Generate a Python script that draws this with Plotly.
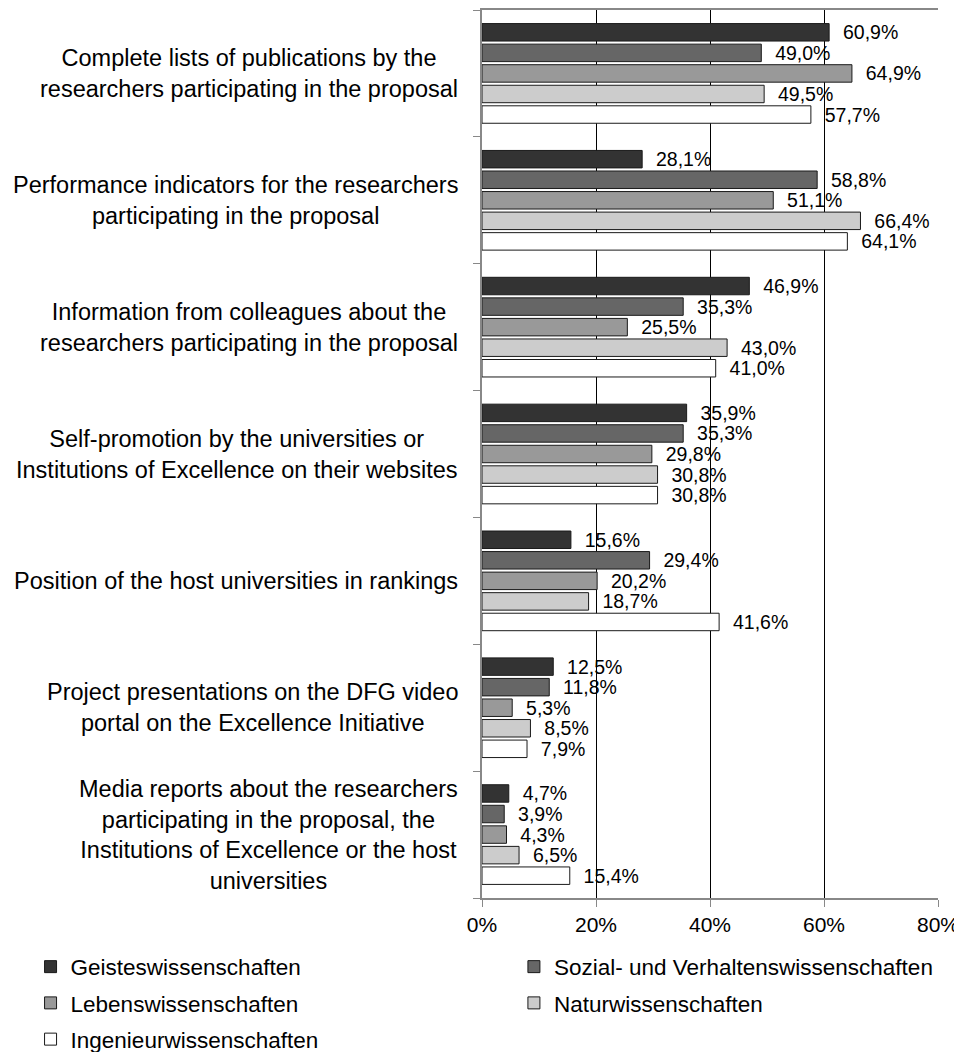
import plotly.graph_objects as go

categories = [
    "Complete lists of publications by the<br>researchers participating in the proposal",
    "Performance indicators for the researchers<br>participating in the proposal",
    "Information from colleagues about the<br>researchers participating in the proposal",
    "Self-promotion by the universities or<br>Institutions of Excellence on their websites",
    "Position of the host universities in rankings",
    "Project presentations on the DFG video<br>portal on the Excellence Initiative",
    "Media reports about the researchers<br>participating in the proposal, the<br>Institutions of Excellence or the host<br>universities",
]

series_names = ["Geisteswissenschaften", "Sozial- und Verhaltenswissenschaften",
                "Lebenswissenschaften", "Naturwissenschaften", "Ingenieurwissenschaften"]

geistes = [60.9, 28.1, 46.9, 35.9, 15.6, 12.5, 4.7]
sozial = [49.0, 58.8, 35.3, 35.3, 29.4, 11.8, 3.9]
leben = [64.9, 51.1, 25.5, 29.8, 20.2, 5.3, 4.3]
natur = [49.5, 66.4, 43.0, 30.8, 18.7, 8.5, 6.5]
ingenieur = [57.7, 64.1, 41.0, 30.8, 41.6, 7.9, 15.4]

x_ticks = [0, 20, 40, 60, 80]
x_tick_labels = ["0%", "20%", "40%", "60%", "80%"]

colors = ["#333333", "#666666", "#999999", "#cccccc", "#ffffff"]
# legend is laid out in two columns like the Excel original
legend_ids = ["legend", "legend2", "legend", "legend2", "legend"]
FONT = "Liberation Sans"

fig = go.Figure()
for name, vals, col, lg in zip(series_names, [geistes, sozial, leben, natur, ingenieur], colors, legend_ids):
    fig.add_trace(go.Bar(
        y=list(range(len(categories))), x=vals, name=name, orientation="h",
        legend=lg, legendgroup=name,
        marker=dict(color=col, line=dict(color="#1a1a1a", width=1)),
        text=["\u00a0\u00a0" + f"{v:.1f}".replace(".", ",") + "%" for v in vals],
        textposition="outside", constraintext="none", cliponaxis=False,
        textfont=dict(family=FONT, size=19.5, color="#000000"),
    ))

# category labels, centred multi-line like the original
for i, cat in enumerate(categories):
    fig.add_annotation(x=0, xref="paper", y=i, yref="y", text=cat, showarrow=False,
                       xanchor="right", xshift=-22, align="center",
                       font=dict(family=FONT, size=23.5, color="#000000"))

leg_style = dict(orientation="v", yanchor="top", xanchor="left", y=-0.0535,
                 traceorder="grouped", tracegroupgap=4, itemclick=False,
                 font=dict(family=FONT, size=22.5, color="#000000"))

# page body has an 8px margin, so the figure is 8px smaller than the window
fig.update_layout(
    width=954, height=1044,
    margin=dict(l=474, r=24, t=2, b=154, autoexpand=False),
    barmode="group", bargap=0.19, bargroupgap=0.15,
    plot_bgcolor="white", paper_bgcolor="white",
    font=dict(family=FONT, color="#000000"),
    showlegend=True,
    legend=dict(x=-0.99, **leg_style),
    legend2=dict(x=0.07, **leg_style),
)
fig.update_xaxes(range=[0, 80], tickvals=x_ticks, ticktext=x_tick_labels,
                 showgrid=True, gridcolor="#000000", gridwidth=1,
                 showline=True, linecolor="#888888", linewidth=1.5, mirror=True,
                 ticks="outside", ticklen=7, tickcolor="#888888",
                 tickfont=dict(family=FONT, size=21), zeroline=False)
fig.update_yaxes(type="linear", autorange=False, range=[6.5, -0.5],
                 showticklabels=False, showgrid=False, zeroline=False,
                 showline=True, linecolor="#888888", linewidth=1.5,
                 ticks="outside", ticklen=7, tickcolor="#888888",
                 tickvals=[i - 0.5 for i in range(len(categories) + 1)])

fig.write_html("out.html")
